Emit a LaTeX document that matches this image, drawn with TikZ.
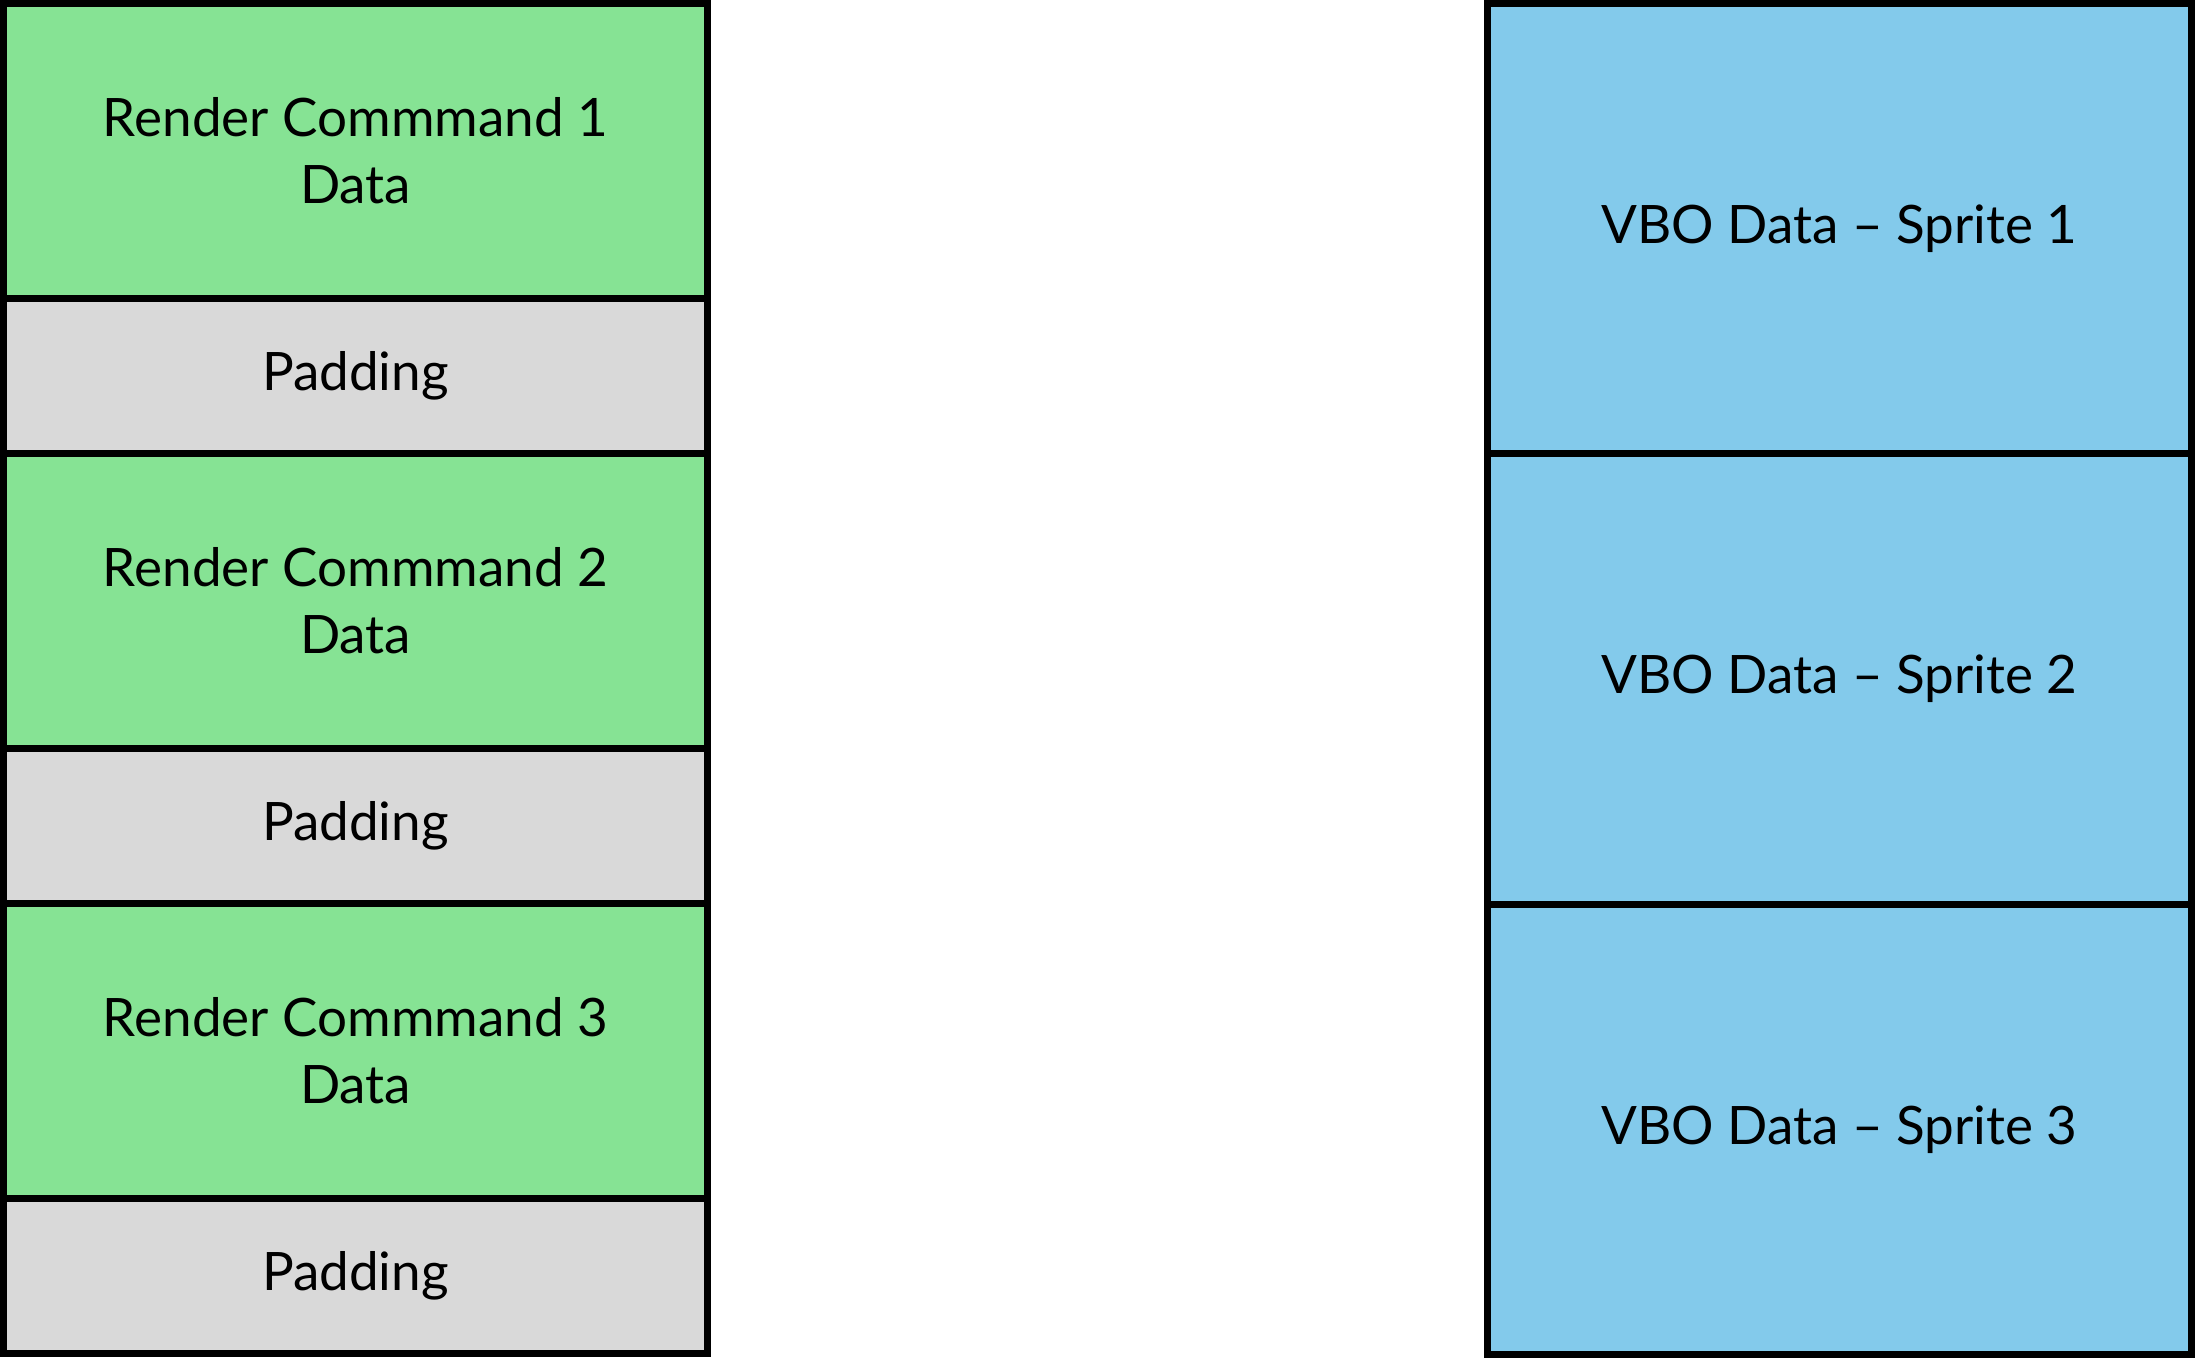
\documentclass[tikz,border=0pt]{standalone}
\usepackage{fontspec}
\setmainfont{Lato}
\definecolor{cmdgreen}{HTML}{86E394}
\definecolor{padgray}{HTML}{D9D9D9}
\definecolor{vboblue}{HTML}{83CAEB}
\begin{document}
\begin{tikzpicture}[x=1pt,y=-1pt,
  cell/.style={draw=black,line width=7pt,rectangle,inner sep=0pt,outer sep=0pt,
    minimum width=704pt,anchor=north west,align=center,
    font=\fontsize{53}{67}\selectfont},
  cmd/.style={cell,fill=cmdgreen,minimum height=295pt},
  pad/.style={cell,fill=padgray,minimum height=155pt},
  vbo/.style={cell,fill=vboblue,minimum height=450.33pt}]
\useasboundingbox (0,0) rectangle (2195,1358);
\node[cmd] (c1) at (3.5,3.5) {Render Commmand 1\\Data};
\node[pad] (p1) at (3.5,298.5) {Padding};
\node[cmd] (c2) at (3.5,453.5) {Render Commmand 2\\Data};
\node[pad] (p2) at (3.5,748.5) {Padding};
\node[cmd] (c3) at (3.5,903.5) {Render Commmand 3\\Data};
\node[pad] (p3) at (3.5,1198.5) {Padding};
\node[vbo] (v1) at (1487.5,3.5) {VBO Data -- Sprite 1};
\node[vbo] (v2) at (1487.5,453.83) {VBO Data -- Sprite 2};
\node[vbo] (v3) at (1487.5,904.17) {VBO Data -- Sprite 3};
\end{tikzpicture}
\end{document}
